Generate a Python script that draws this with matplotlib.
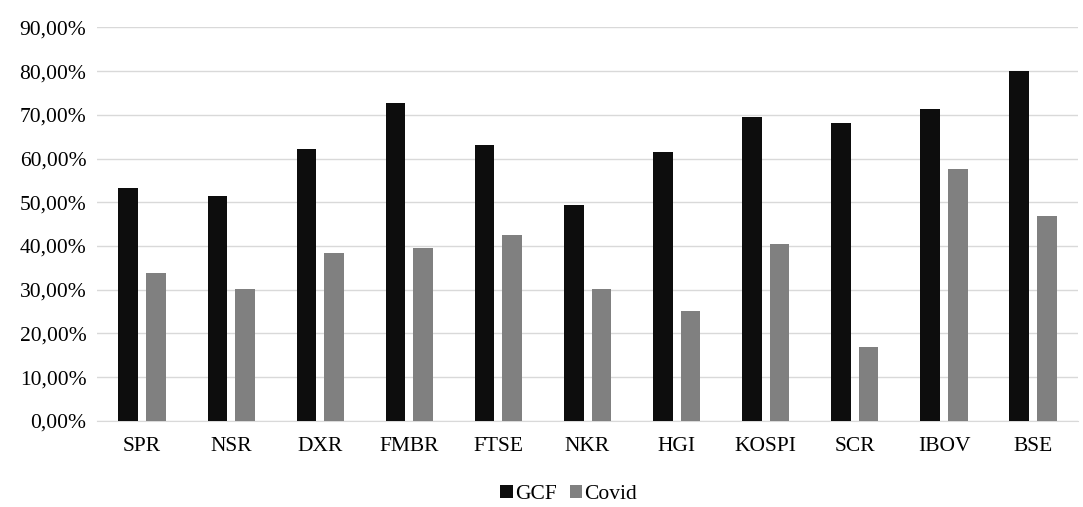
import numpy as np
import matplotlib.pyplot as plt
from matplotlib.ticker import FuncFormatter

categories = ['SPR', 'NSR', 'DXR', 'FMBR', 'FTSE', 'NKR', 'HGI', 'KOSPI', 'SCR', 'IBOV', 'BSE']
gcf = [53.2, 51.4, 62.1, 72.8, 63.2, 49.3, 61.4, 69.4, 68.2, 71.3, 80.0]
covid = [33.8, 30.1, 38.3, 39.5, 42.4, 30.1, 25.1, 40.5, 16.9, 57.6, 46.8]

plt.rcParams['font.family'] = ['Liberation Serif', 'DejaVu Serif']
fig = plt.figure(figsize=(10.83, 5.07), dpi=100)
ax = fig.add_axes([0.09, 0.17, 0.905, 0.776])

x = np.arange(len(categories))
w = 0.22
ax.bar(x - 0.155, gcf, w, color='#0d0d0d', label='GCF', zorder=3)
ax.bar(x + 0.155, covid, w, color='#808080', label='Covid', zorder=3)

ax.set_ylim(0, 90)
ax.set_yticks(np.arange(0, 91, 10))
ax.yaxis.set_major_formatter(FuncFormatter(lambda v, p: f'{v:.2f}%'.replace('.', ',')))
ax.set_xlim(-0.5, len(categories) - 0.5)
ax.set_xticks(x)
ax.set_xticklabels(categories)
ax.grid(axis='y', color='#d9d9d9', linewidth=1, zorder=0)
for s in ['top', 'right', 'left']:
    ax.spines[s].set_visible(False)
ax.spines['bottom'].set_color('#d9d9d9')
ax.tick_params(length=0, labelsize=15.5, pad=12)
ax.tick_params(axis='y', pad=8)
fig.legend(*ax.get_legend_handles_labels(), loc='center', bbox_to_anchor=(0.525, 0.025), ncol=2,
           frameon=False, fontsize=15.5, handlelength=0.6, handleheight=0.6, columnspacing=0.6,
           handletextpad=0.1, borderpad=0.1)

fig.savefig('out.png')
